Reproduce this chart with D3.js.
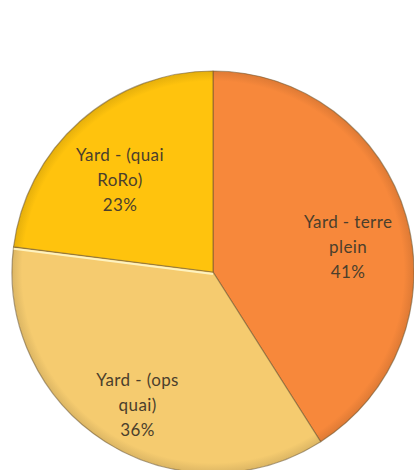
<!DOCTYPE html>
<html>
<head>
<meta charset="utf-8">
<script src="https://cdn.jsdelivr.net/npm/d3@7"></script>
<style>
  html, body { margin: 0; padding: 0; background: #ffffff; }
  svg { display: block; }
  .slice-label { font-family: Lato, "Open Sans", sans-serif; font-size: 17px; letter-spacing: 0.4px; fill: #4b3f2c; }
</style>
</head>
<body>
<svg id="chart" width="414" height="470"></svg>
<script>
// Yard share by area, clockwise from 12 o'clock
const categories = ["Yard - terre plein", "Yard - (ops quai)", "Yard - (quai RoRo)"];
const shares = [41, 36, 23];
const labelLines = [["Yard - terre", "plein"], ["Yard - (ops", "quai)"], ["Yard - (quai", "RoRo)"]];
const colors = ["#F7883B", "#F5CB6F", "#FFC30D"];

const cx = 213, cy = 272, radius = 201;

const svg = d3.select("#chart");
const defs = svg.append("defs");

// soft bevel shading per slice (gradient space is the translated pie group)
colors.forEach((c, i) => {
  const g = defs.append("radialGradient")
    .attr("id", "shade" + i)
    .attr("gradientUnits", "userSpaceOnUse")
    .attr("cx", 0).attr("cy", 0).attr("r", radius);
  g.append("stop").attr("offset", "0%").attr("stop-color", c);
  g.append("stop").attr("offset", "95%").attr("stop-color", c);
  g.append("stop").attr("offset", "100%").attr("stop-color", d3.color(c).darker(0.3).formatHex());
});

const data = categories.map((name, i) => ({ name, value: shares[i], lines: labelLines[i], idx: i }));

const pie = d3.pie().value(d => d.value).sort(null);
const arcs = pie(data);

const arc = d3.arc().innerRadius(0).outerRadius(radius);
const labelArc = d3.arc().innerRadius(radius * 0.7).outerRadius(radius * 0.7);

const g = svg.append("g").attr("transform", `translate(${cx},${cy})`);

g.selectAll("path.slice")
  .data(arcs)
  .join("path")
  .attr("class", "slice")
  .attr("d", arc)
  .attr("fill", d => `url(#shade${d.data.idx})`)
  .attr("stroke", "#6b5630")
  .attr("stroke-opacity", 0.55)
  .attr("stroke-width", 1.2)
  .attr("stroke-linejoin", "round");

// light highlight along the edge where the RoRo slice meets the ops slice
g.selectAll("line.edge")
  .data(arcs.filter(d => d.index === 2))
  .join("line")
  .attr("class", "edge")
  .attr("x1", 0).attr("y1", 0)
  .attr("x2", d => Math.sin(d.startAngle) * radius)
  .attr("y2", d => -Math.cos(d.startAngle) * radius)
  .attr("stroke", "#fff6c8")
  .attr("stroke-opacity", 0.9)
  .attr("stroke-width", 2)
  .attr("transform", "translate(0,2)");

const labels = g.selectAll("text.slice-label")
  .data(arcs)
  .join("text")
  .attr("class", "slice-label")
  .attr("text-anchor", "middle")
  .attr("transform", d => {
    const [x, y] = labelArc.centroid(d);
    return `translate(${x},${y})`;
  });

labels.each(function(d) {
  const t = d3.select(this);
  const lines = d.data.lines.concat([d.data.value + "%"]);
  lines.forEach((ln, j) => {
    t.append("tspan")
      .attr("x", 0)
      .attr("dy", j === 0 ? (-(lines.length - 1) / 2 * 25 + 20) : 25)
      .text(ln);
  });
});
</script>
</body>
</html>
